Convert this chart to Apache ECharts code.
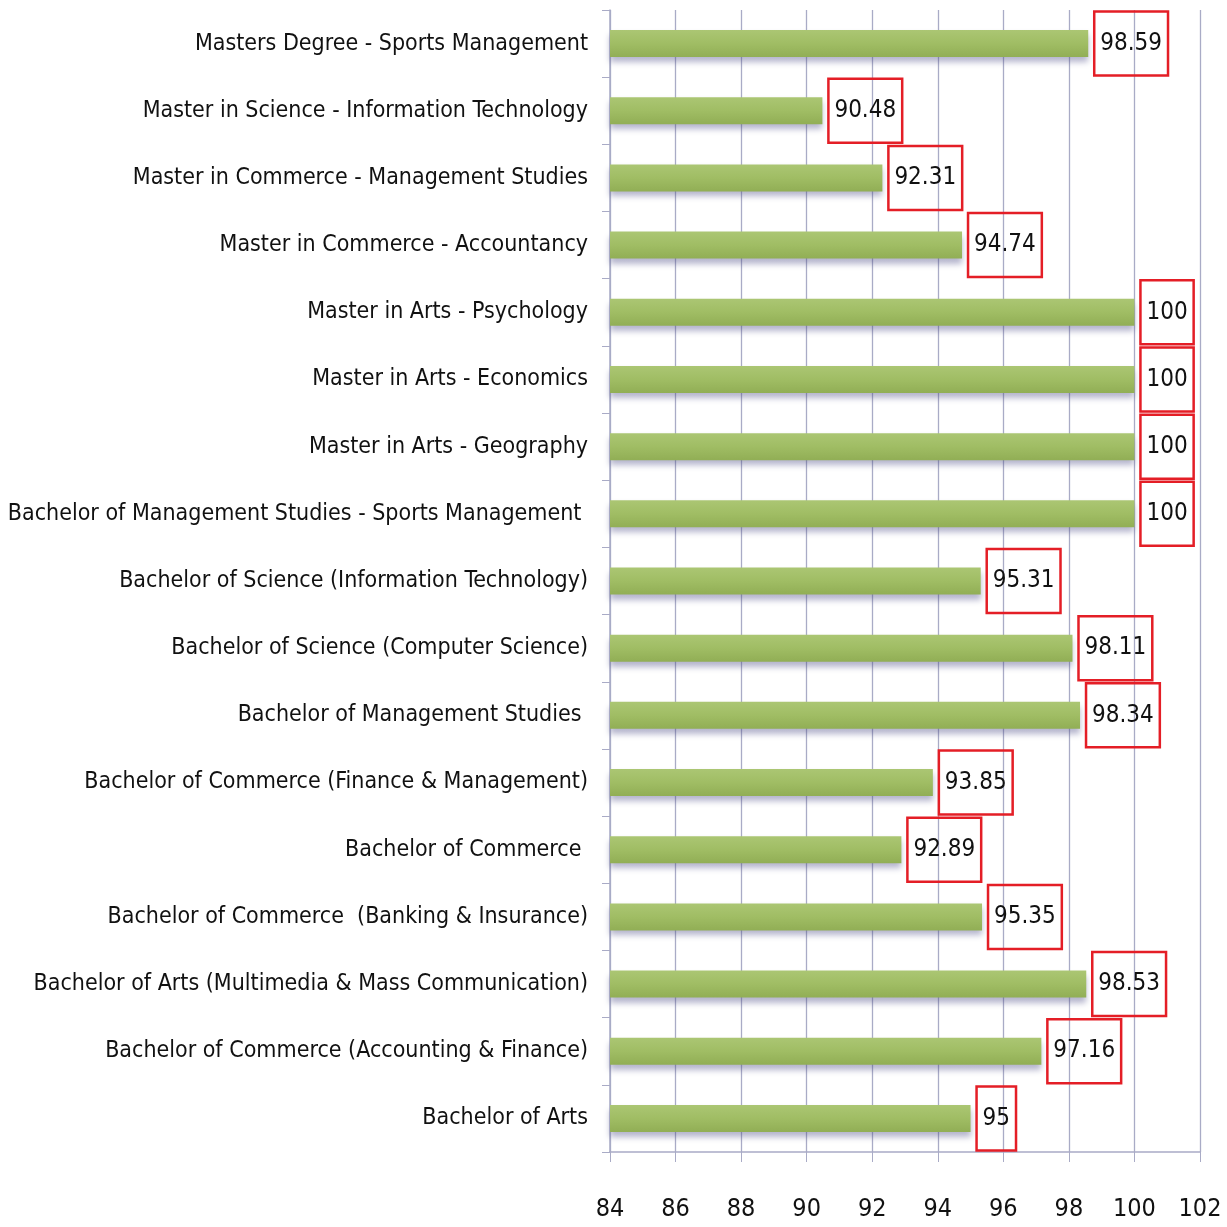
<!DOCTYPE html>
<html>
<head>
<meta charset="utf-8">
<title>Pass percentage by programme</title>
<style>
html, body { margin: 0; padding: 0; background: #fff; }
#main { width: 1227px; height: 1227px; }
</style>
</head>
<body>
<div id="main"></div>
<script src="https://cdn.jsdelivr.net/npm/echarts@6/dist/echarts.min.js"></script>
<script>
// programmes, top to bottom as in the picture
var programmes = [
	'Masters Degree - Sports Management',
	'Master in Science - Information Technology',
	'Master in Commerce - Management Studies',
	'Master in Commerce - Accountancy',
	'Master in Arts - Psychology',
	'Master in Arts - Economics',
	'Master in Arts - Geography',
	'Bachelor of Management Studies - Sports Management ',
	'Bachelor of Science (Information Technology)',
	'Bachelor of Science (Computer Science)',
	'Bachelor of Management Studies ',
	'Bachelor of Commerce (Finance & Management)',
	'Bachelor of Commerce ',
	'Bachelor of Commerce  (Banking & Insurance)',
	'Bachelor of Arts (Multimedia & Mass Communication)',
	'Bachelor of Commerce (Accounting & Finance)',
	'Bachelor of Arts'
];
var passPercent = [98.59, 90.48, 92.31, 94.74, 100, 100, 100, 100, 95.31, 98.11, 98.34, 93.85, 92.89, 95.35, 98.53, 97.16, 95];
var xMin = 84, xMax = 102, xStep = 2;

var font = '"DejaVu Sans Condensed", "Liberation Sans Narrow", sans-serif';
var gridColor = '#a9abc6';

var chart = echarts.init(document.getElementById('main'));
chart.setOption({
	backgroundColor: '#ffffff',
	animation: false,
	grid: { left: 610, right: 27, top: 10, bottom: 75, containLabel: false, outerBoundsMode: 'none' },
	xAxis: {
		type: 'value',
		min: xMin,
		max: xMax,
		interval: xStep,
		axisLine: { show: true, lineStyle: { color: gridColor, width: 1.5 } },
		axisTick: { show: true, length: 10, lineStyle: { color: gridColor } },
		splitLine: { show: true, lineStyle: { color: gridColor, width: 1.3 } },
		axisLabel: { margin: 45, fontFamily: font, fontSize: 25, color: '#111', showMaxLabel: true, showMinLabel: true, hideOverlap: false }
	},
	yAxis: {
		type: 'category',
		inverse: true,
		data: programmes,
		axisLine: { show: true, lineStyle: { color: gridColor, width: 1.5 } },
		axisTick: { show: true, length: 8, lineStyle: { color: gridColor } },
		axisLabel: { margin: 22, fontFamily: font, fontSize: 23, color: '#111' }
	},
	series: [{
		type: 'bar',
		data: passPercent,
		barWidth: 27,
		itemStyle: {
			color: new echarts.graphic.LinearGradient(0, 0, 0, 1, [
				{ offset: 0, color: '#abc673' },
				{ offset: 0.5, color: '#a0bd64' },
				{ offset: 1, color: '#91ae55' }
			]),
			shadowColor: 'rgba(70, 70, 130, 0.4)',
			shadowBlur: 6,
			shadowOffsetY: 5
		},
		label: {
			show: true,
			position: 'right',
			distance: 6,
			fontFamily: font,
			fontSize: 24,
			color: '#111',
			borderColor: '#e41e26',
			borderWidth: 2.5,
			padding: [21, 6, 19, 6]
		}
	}]
});
</script>
</body>
</html>
